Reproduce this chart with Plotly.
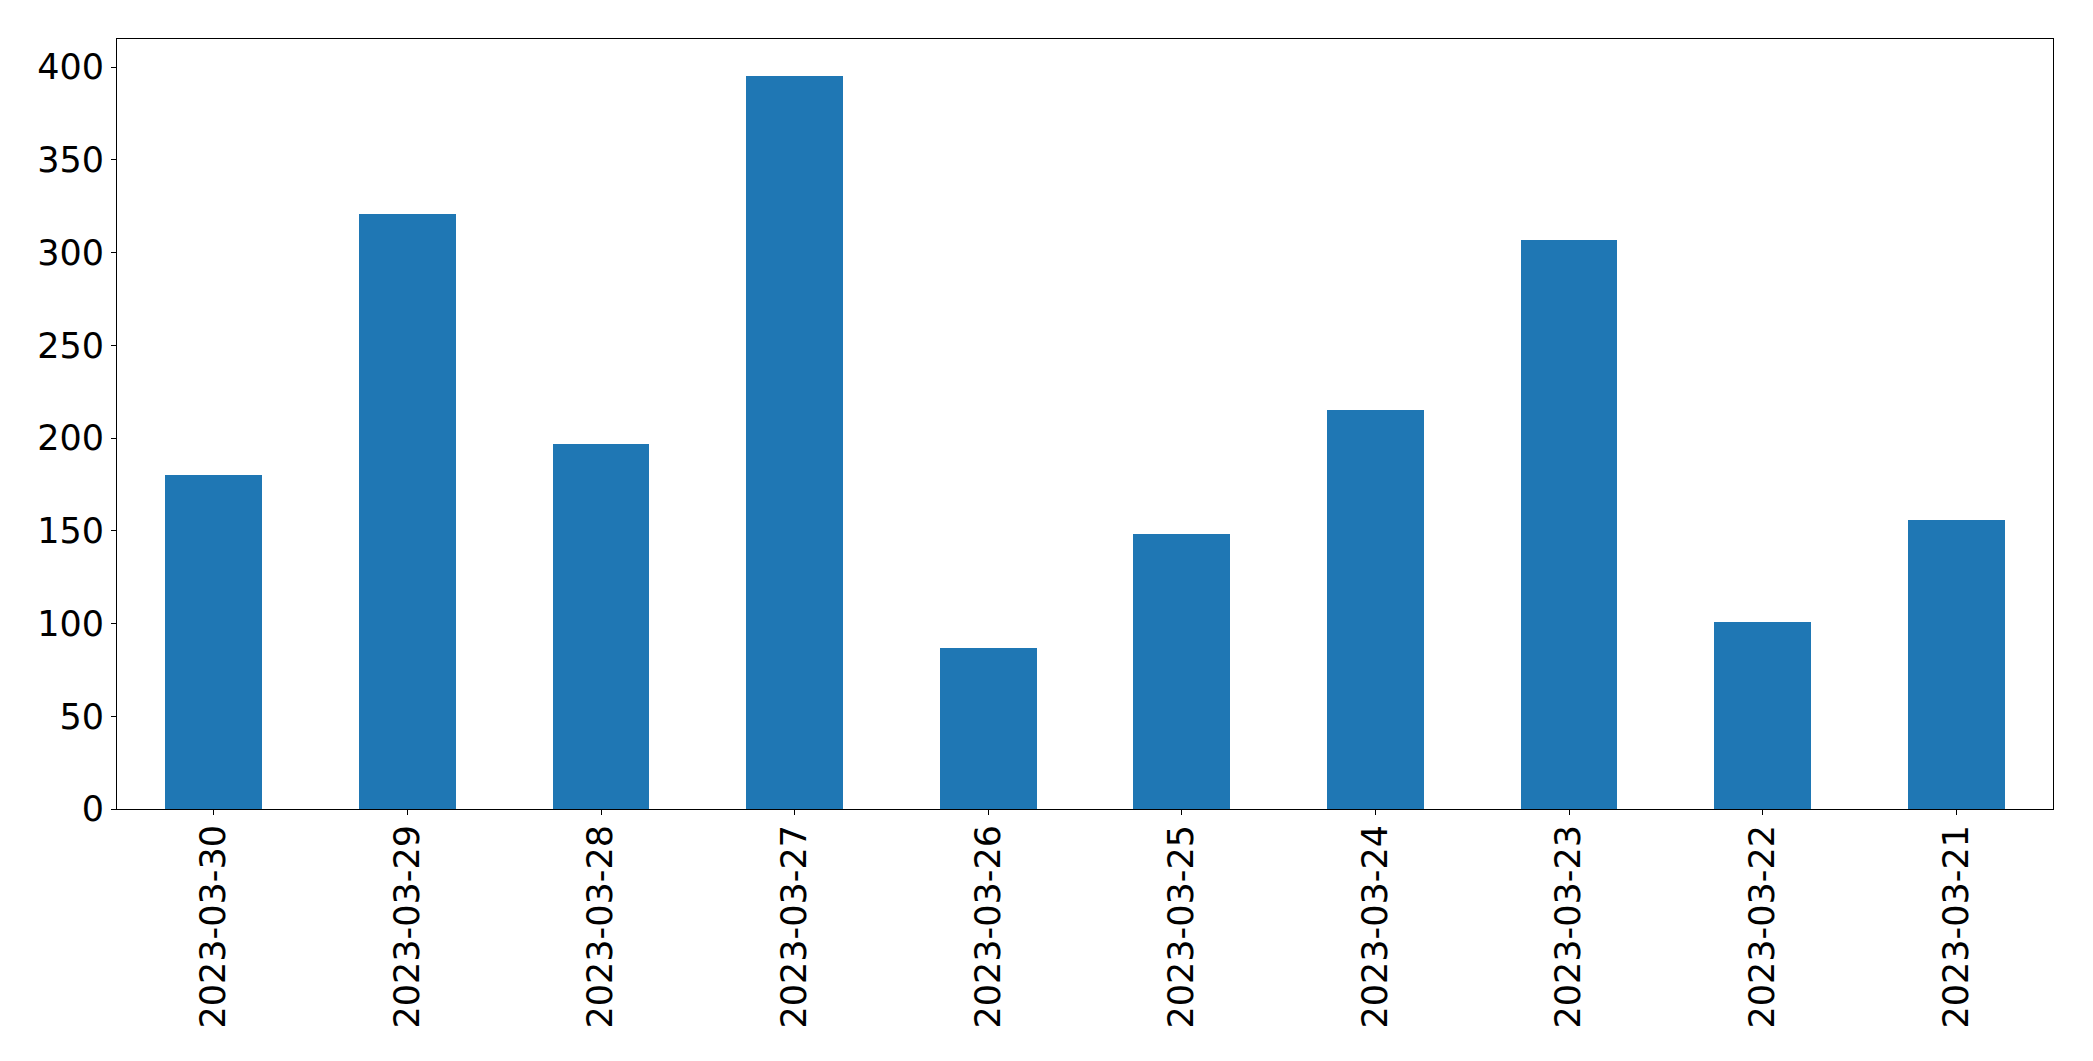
import plotly.graph_objects as go

dates = ["2023-03-30", "2023-03-29", "2023-03-28", "2023-03-27", "2023-03-26",
         "2023-03-25", "2023-03-24", "2023-03-23", "2023-03-22", "2023-03-21"]
counts = [180, 321, 197, 395, 87, 148, 215, 307, 101, 156]
y_ticks = [0, 50, 100, 150, 200, 250, 300, 350, 400]

W, H = 2093, 1061
FONT = dict(family="DejaVu Sans", size=35, color="black")

fig = go.Figure(
    go.Bar(x=dates, y=counts, width=0.5, marker=dict(color="#1f77b4", line=dict(width=0)))
)

axis_common = dict(
    showline=True, linecolor="black", linewidth=1.1, mirror=True,
    ticks="outside", ticklen=5, tickwidth=1.1, tickcolor="black",
    showgrid=False, zeroline=False, tickfont=FONT,
)

fig.update_xaxes(type="category", range=[-0.5, 9.5], tickangle=-90,
                 ticklabelstandoff=-4, **axis_common)
fig.update_yaxes(range=[0, 415.1], tickvals=y_ticks, ticktext=[str(v) for v in y_ticks],
                 ticklabelstandoff=0, **axis_common)

fig.update_layout(
    width=W, height=H,
    margin=dict(l=116.7, r=40, t=39.3, b=252, autoexpand=False),
    paper_bgcolor="white", plot_bgcolor="white",
    showlegend=False, bargap=0,
    font=FONT,
)

fig.write_html(
    "out.html",
    config={"displayModeBar": False},
    post_script="document.body.style.margin='0';document.body.style.overflow='hidden';",
)
